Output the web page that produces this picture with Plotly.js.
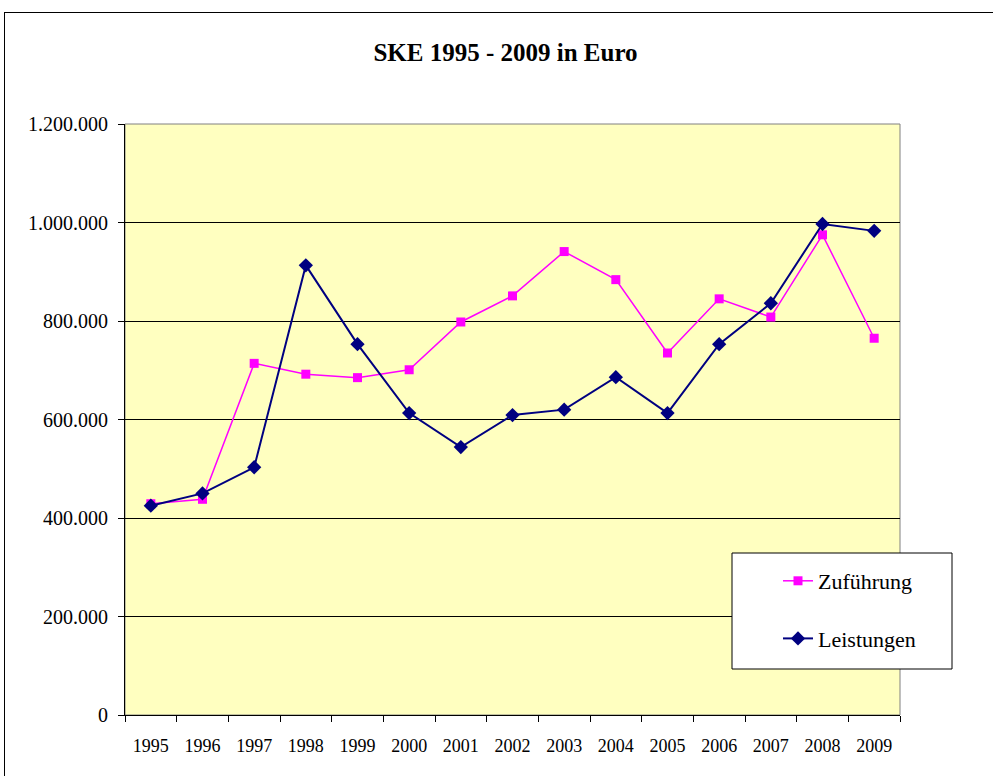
<!DOCTYPE html>
<html>
<head>
<meta charset="utf-8">
<script src="https://cdn.plot.ly/plotly-3.0.1.min.js"></script>
<style>
html,body{margin:0;padding:0;width:993px;height:776px;overflow:hidden;background:#fff;}
#frame{position:absolute;left:4px;top:12px;width:1010px;height:800px;border:1px solid #000;}
#chart{position:absolute;left:0;top:0;width:993px;height:776px;}
</style>
</head>
<body>
<div id="frame"></div>
<div id="chart"></div>
<script>
const years = ["1995","1996","1997","1998","1999","2000","2001","2002","2003","2004","2005","2006","2007","2008","2009"];
const zufuehrung = [429000, 438000, 714000, 692000, 685000, 701000, 798000, 851000, 941000, 884000, 735000, 845000, 808000, 975000, 765000];
const leistungen = [425000, 450000, 503000, 913000, 753000, 613000, 544000, 609000, 620000, 686000, 613000, 753000, 836000, 997000, 983000];
const yTicks = [0, 200000, 400000, 600000, 800000, 1000000, 1200000];

const serif = "Liberation Serif, Times New Roman, serif";

const traces = [
  {
    x: years, y: zufuehrung, name: "Zuführung", type: "scatter", mode: "lines+markers",
    line: {color: "#FF00FF", width: 1.5},
    marker: {symbol: "square", size: 9, color: "#FF00FF"},
    legendgroup: "a"
  },
  {
    x: years, y: leistungen, name: "Leistungen", type: "scatter", mode: "lines+markers",
    line: {color: "#000080", width: 2},
    marker: {symbol: "diamond", size: 11, color: "#000080"},
    legendgroup: "b"
  }
];

const layout = {
  width: 993, height: 776,
  margin: {l: 125, r: 93, t: 124, b: 61},
  paper_bgcolor: "rgba(0,0,0,0)",
  plot_bgcolor: "#FFFFC0",
  separators: ",.",
  font: {family: serif, color: "#000", size: 18},
  title: {
    text: "<b>SKE 1995 - 2009 in Euro</b>",
    font: {family: serif, size: 25, color: "#000"},
    xref: "paper", x: 0.491, xanchor: "center",
    yref: "container", y: 1 - 52/776, yanchor: "middle"
  },
  xaxis: {
    type: "category",
    tickson: "boundaries",
    ticks: "outside", ticklen: 6, tickcolor: "#000", tickwidth: 1,
    showline: true, linecolor: "#000", linewidth: 1,
    showgrid: false, zeroline: false,
    tickfont: {family: serif, size: 18, color: "#000"},
    ticklabelstandoff: 14,
    range: [-0.5, 14.5]
  },
  yaxis: {
    range: [0, 1200000],
    tickvals: yTicks,
    tickformat: ",d",
    ticks: "outside", ticklen: 6, tickcolor: "#000", tickwidth: 1,
    showline: true, linecolor: "#000", linewidth: 1,
    showgrid: true, gridcolor: "#000", gridwidth: 1,
    zeroline: false,
    tickfont: {family: serif, size: 20, color: "#000"},
    ticklabelstandoff: 6
  },
  shapes: [
    {type: "rect", xref: "paper", yref: "paper", x0: 0, x1: 1, y0: 0, y1: 1,
     line: {color: "#808080", width: 1}, fillcolor: "rgba(0,0,0,0)", layer: "below"},
    {type: "rect", xref: "paper", yref: "paper", x0: (732-125)/775, x1: (952-125)/775,
     y0: (715-669)/591, y1: (715-553)/591,
     line: {color: "#000", width: 1}, fillcolor: "#FFFFFF", layer: "above"}
  ],
  showlegend: true,
  legend: {
    x: (778-125)/775, xanchor: "left",
    y: (715-560)/591, yanchor: "top",
    bgcolor: "rgba(0,0,0,0)", borderwidth: 0,
    font: {family: serif, size: 22, color: "#000"},
    tracegroupgap: 26,
    traceorder: "grouped"
  }
};

Plotly.newPlot("chart", traces, layout, {displayModeBar: false, staticPlot: true});
</script>
</body>
</html>
